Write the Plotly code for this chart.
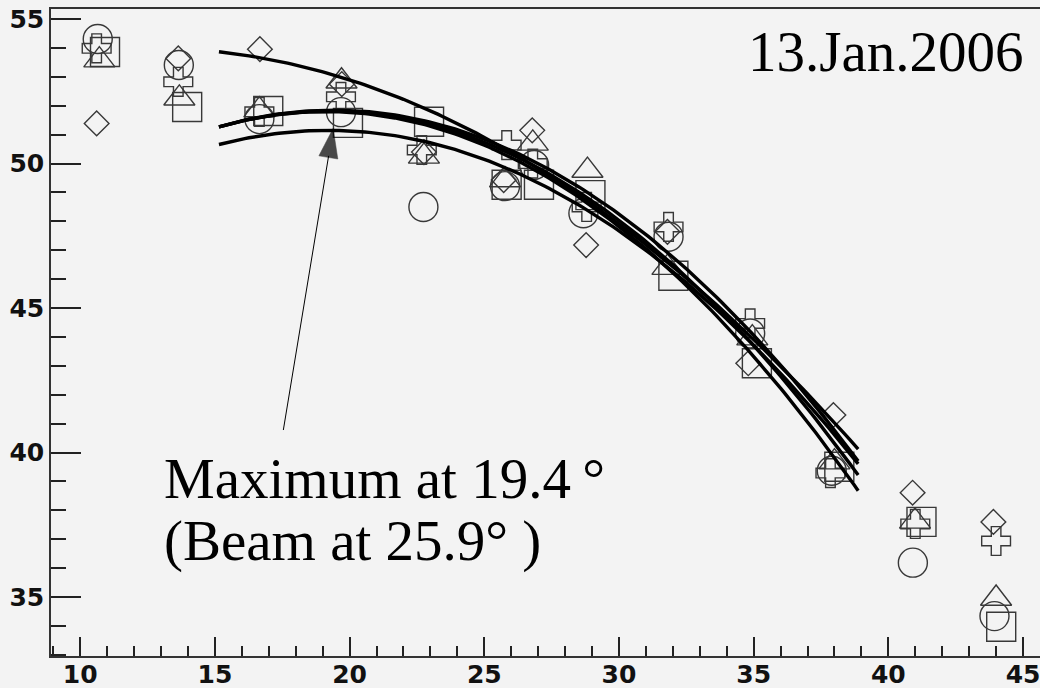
import numpy as np
import plotly.graph_objects as go

# ---- data ----
circle_x = [10.65, 13.66, 16.65, 19.68, 22.74, 25.77, 26.85, 28.68, 31.84, 34.87, 37.90, 40.91, 43.94]
circle_y = [54.31, 53.41, 51.54, 51.78, 48.50, 49.22, 49.95, 48.28, 47.47, 44.12, 39.37, 36.19, 34.34]

square_x = [10.92, 13.97, 16.98, 19.94, 22.95, 25.83, 27.03, 28.94, 32.02, 35.12, 38.18, 41.23, 44.19]
square_y = [53.86, 51.96, 51.82, 51.41, 51.45, 49.27, 49.27, 48.91, 46.12, 43.09, 39.51, 37.60, 33.97]

triangle_x = [10.71, 13.68, 16.65, 19.70, 22.76, 25.77, 26.80, 28.83, 31.80, 34.95, 38.00, 40.99, 44.00]
triangle_y = [53.58, 52.26, 51.85, 52.85, 50.25, 49.43, 50.70, 49.76, 46.40, 43.96, 39.67, 37.62, 34.95]

diamond_x = [10.61, 13.64, 16.67, 19.71, 22.76, 25.72, 26.78, 28.78, 31.80, 34.80, 37.96, 40.90, 43.90]
diamond_y = [51.39, 53.64, 53.96, 52.75, 50.40, 49.43, 51.15, 47.18, 47.64, 43.09, 41.30, 38.61, 37.60]

cross_x = [10.61, 13.64, 16.65, 19.68, 22.68, 25.83, 26.80, 28.80, 31.84, 34.87, 37.85, 41.00, 44.00]
cross_y = [53.99, 52.83, 51.79, 52.31, 50.47, 50.64, 50.00, 48.50, 47.81, 44.47, 39.29, 37.53, 36.94]

# quadratic fits: y = peak - k * (x - x_peak)^2 over the fit range
fit_peak = [54.00, 51.82, 51.80, 51.85, 51.15]
fit_xpeak = [12.60, 19.25, 19.12, 19.40, 19.20]
fit_k = [0.0201, 0.0327, 0.0336, 0.0320, 0.0298]
fit_range = [15.15, 38.88]

x_ticks = [10, 15, 20, 25, 30, 35, 40, 45]
y_ticks = [35, 40, 45, 50, 55]

arrow_x = [17.54, 19.39]
arrow_y = [40.78, 51.22]

date_text = "13.Jan.2006"
max_text = "Maximum at 19.4\u2009°"
beam_text = "(Beam at 25.9° )"

# ---- figure ----
fig = go.Figure()

mk_line = dict(color="#383838", width=1.4)
series = [
    (circle_x, circle_y, "circle-open", 29),
    (square_x, square_y, "square-open", 29),
    (triangle_x, triangle_y, "triangle-up-open", 27),
    (diamond_x, diamond_y, "diamond-open", 19),
    (cross_x, cross_y, "cross-open", 24),
]
for xs, ys, sym, sz in series:
    fig.add_trace(go.Scatter(
        x=xs, y=ys, mode="markers",
        marker=dict(symbol=sym, size=sz, color="#383838", line=mk_line),
        hoverinfo="skip"))

xf = np.linspace(fit_range[0], fit_range[1], 150)
for a, xm, k in zip(fit_peak, fit_xpeak, fit_k):
    fig.add_trace(go.Scatter(
        x=xf, y=a - k * (xf - xm) ** 2, mode="lines",
        line=dict(color="black", width=3.4), hoverinfo="skip"))

# arrow
fig.add_trace(go.Scatter(
    x=arrow_x, y=arrow_y, mode="lines+markers",
    line=dict(color="black", width=1),
    marker=dict(symbol="arrow", size=[0, 31], angleref="previous",
                color="black", line=dict(width=0.5, color="black")),
    hoverinfo="skip"))

serif = dict(family="Liberation Serif, Times New Roman, serif", size=57, color="black")
fig.add_annotation(x=34.72, y=53.88, xref="x", yref="y", text=date_text,
                   showarrow=False, xanchor="left", yanchor="middle", font=serif)
fig.add_annotation(x=13.05, y=39.12, xref="x", yref="y", text=max_text,
                   showarrow=False, xanchor="left", yanchor="middle", font=serif)
fig.add_annotation(x=13.05, y=36.93, xref="x", yref="y", text=beam_text,
                   showarrow=False, xanchor="left", yanchor="middle", font=serif)

tickfont = dict(family="DejaVu Sans", size=25, color="#111", weight="bold")
fig.update_xaxes(
    range=[8.915, 45.63], tickvals=x_ticks, ticks="inside", ticklen=19,
    tickwidth=1.5, tickcolor="#222", automargin=False,
    ticklabeloverflow="allow", ticklabelstandoff=-5,
    minor=dict(dtick=1, tick0=0, ticks="inside", ticklen=10, tickwidth=1.5, tickcolor="#222"),
    showline=True, linecolor="#333", linewidth=1.5, mirror=True,
    showgrid=False, zeroline=False, tickfont=tickfont)
fig.update_yaxes(
    range=[32.96, 55.35], tickvals=y_ticks, ticks="inside", ticklen=30,
    tickwidth=1.5, tickcolor="#222", automargin=False,
    ticklabeloverflow="allow",
    minor=dict(dtick=1, tick0=0, ticks="inside", ticklen=15, tickwidth=1.5, tickcolor="#222"),
    showline=True, linecolor="#333", linewidth=1.5, mirror=True,
    showgrid=False, zeroline=False, tickfont=tickfont)

fig.update_layout(
    width=1040, height=688, margin=dict(l=51, r=0, t=9, b=32, autoexpand=False),
    paper_bgcolor="#f3f3f3", plot_bgcolor="#f3f3f3", showlegend=False)

fig.write_html("out.html", config={"displayModeBar": False},
               post_script="document.body.style.margin='0';document.body.style.background='#f3f3f3';")
